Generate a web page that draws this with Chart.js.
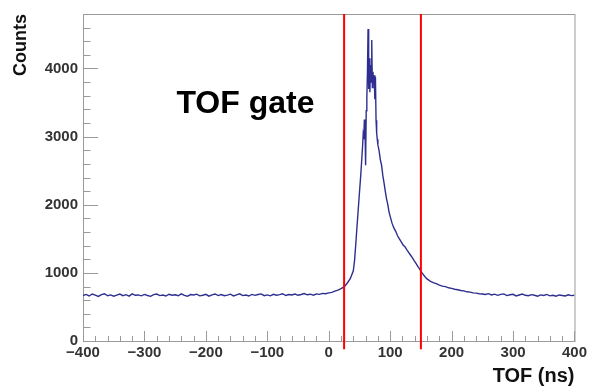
<!DOCTYPE html>
<html>
<head>
<meta charset="utf-8">
<script src="https://cdn.jsdelivr.net/npm/chart.js@4.4.1/dist/chart.umd.min.js"></script>
<style>
  html, body { margin: 0; padding: 0; background: #fff; }
  #wrap { width: 590px; height: 386px; }
</style>
</head>
<body>
<div id="wrap"><canvas id="tofChart"></canvas></div>
<script>
// bin centres (ns) for each stretch of the TOF spectrum
function range(a, b, step) {
    const out = [];
    for (let v = a; v <= b + 1e-9; v += step) out.push(v);
    return out;
}

const leftBins = range(-400, 20, 5);
const leftCounts = [
    668, 684, 661, 690, 672, 655, 681, 694, 664, 677,
    658, 673, 688, 665, 680, 659, 692, 671, 676, 663,
    684, 668, 656, 681, 689, 666, 674, 660, 686, 672,
    679, 664, 693, 669, 657, 682, 675, 688, 663, 671,
    685, 659, 677, 690, 667, 681, 664, 673, 687, 662,
    678, 692, 666, 675, 660, 684, 670, 682, 691, 665,
    677, 663, 686, 672, 680, 694, 668, 683, 675, 689,
    671, 682, 696, 678, 687, 673, 691, 684, 699, 693,
    706, 714, 731, 748, 768
];

const riseBins = [25, 30, 35, 40, 42, 44, 46, 48, 50, 52].concat(range(54, 80, 1));
const riseCounts = [
    795, 848, 915, 1030, 1180, 1420, 1680, 1930, 2180, 2420,
    2700, 2850, 3020, 2960, 3250, 3120, 2580, 3380, 3560, 3950,
    4580, 3700, 4150, 3650, 4050, 3800, 4420, 3720, 3950, 3780,
    3900, 3550, 3880, 3240, 3050, 2960, 2880
];

const tailBins = range(82, 100, 2).concat(range(103, 160, 3), range(165, 250, 5));
const tailCounts = [
    2790, 2660, 2580, 2430, 2320, 2200, 2090, 2010, 1900, 1830,
    1730, 1660, 1610, 1545, 1500, 1455, 1410, 1385, 1340, 1300,
    1262, 1225, 1180, 1140, 1095, 1055, 1010, 975, 940, 912,
    880, 858, 842, 820, 806, 798, 781, 772, 760, 752,
    741, 736, 722, 718, 706, 703, 694, 690
];

const rightBins = range(255, 400, 5);
const rightCounts = [
    682, 695, 676, 688, 670, 684, 691, 667, 679, 686,
    662, 675, 689, 671, 664, 680, 672, 658, 677, 669,
    684, 663, 671, 657, 676, 668, 661, 679, 666, 672
];

const gateNs = [25, 150];
const xTickValues = [-400, -300, -200, -100, 0, 100, 200, 300, 400];
const yTickValues = [0, 1000, 2000, 3000, 4000];

const tofNs = leftBins.concat(riseBins, tailBins, rightBins);
const counts = leftCounts.concat(riseCounts, tailCounts, rightCounts);
const histPoints = tofNs.map((x, i) => ({ x: x, y: counts[i] }));

const labelFont = { family: 'Liberation Sans, Arial, sans-serif', size: 15, weight: 'bold' };
const xTitleFont = { family: 'Liberation Sans, Arial, sans-serif', size: 20, weight: 'bold', lineHeight: 1.0 };
const yTitleFont = { family: 'Liberation Sans, Arial, sans-serif', size: 18, weight: 'bold', lineHeight: 1.2 };

const minus = v => (v < 0 ? '\u2212' + Math.abs(v) : String(v));

// ROOT style frame with inward ticks, plus the "TOF gate" text
const rootFrame = {
    id: 'rootFrame',
    beforeDatasetsDraw(chart) {
        const { ctx, chartArea: a, scales: { x, y } } = chart;
        ctx.save();
        ctx.strokeStyle = '#9a9a9a';
        ctx.lineWidth = 1;
        ctx.strokeRect(a.left + 0.5, a.top + 0.5, a.right - a.left, a.bottom - a.top);
        ctx.beginPath();
        for (let v = -400; v <= 400; v += 20) {
            const px = Math.round(x.getPixelForValue(v)) + 0.5;
            const len = v % 100 === 0 ? 10 : 5;
            ctx.moveTo(px, a.bottom);
            ctx.lineTo(px, a.bottom - len);
        }
        for (let v = 0; v <= 4800; v += 200) {
            const py = Math.round(y.getPixelForValue(v)) + 0.5;
            const len = v % 1000 === 0 ? 15 : 7.5;
            ctx.moveTo(a.left, py);
            ctx.lineTo(a.left + len, py);
        }
        ctx.stroke();
        ctx.restore();
    },
    afterDraw(chart) {
        const { ctx, scales: { x, y } } = chart;
        ctx.save();
        ctx.fillStyle = '#000';
        ctx.font = 'bold 32px Liberation Sans, Arial, sans-serif';
        ctx.textBaseline = 'alphabetic';
        ctx.fillText('TOF gate', x.getPixelForValue(-248), y.getPixelForValue(3350));
        ctx.restore();
    }
};

new Chart(document.getElementById('tofChart'), {
    type: 'line',
    data: {
        datasets: [
            ...gateNs.map(g => ({
                data: [{ x: g, y: -120 }, { x: g, y: 4800 }],
                borderColor: '#ff0000',
                borderWidth: 2,
                pointRadius: 0,
                clip: false
            })),
            {
                data: histPoints,
                borderColor: '#2e2e90',
                borderWidth: 1.4,
                pointRadius: 0,
                tension: 0,
                fill: false
            }
        ]
    },
    options: {
        responsive: true,
        maintainAspectRatio: false,
        animation: false,
        layout: { padding: { left: 0, right: 14, top: 11, bottom: 0 } },
        plugins: { legend: { display: false }, tooltip: { enabled: false } },
        scales: {
            x: {
                type: 'linear',
                min: -400,
                max: 400,
                afterBuildTicks: s => { s.ticks = xTickValues.map(v => ({ value: v })); },
                afterFit: s => { s.height = 45; },
                grid: { display: false, drawTicks: false },
                border: { display: false },
                ticks: { padding: 3, color: '#333', font: labelFont, maxRotation: 0, autoSkip: false, callback: minus },
                title: { display: true, text: 'TOF (ns)', align: 'end', color: '#111', font: xTitleFont, padding: 0 }
            },
            y: {
                type: 'linear',
                min: 0,
                max: 4800,
                afterBuildTicks: s => { s.ticks = yTickValues.map(v => ({ value: v })); },
                afterFit: s => { s.width = 83; },
                grid: { display: false, drawTicks: false },
                border: { display: false },
                ticks: { padding: 5, color: '#333', font: labelFont, autoSkip: false, callback: minus },
                title: { display: true, text: 'Counts', align: 'end', color: '#111', font: yTitleFont, padding: { top: 10 } }
            }
        }
    },
    plugins: [rootFrame]
});
</script>
</body>
</html>
